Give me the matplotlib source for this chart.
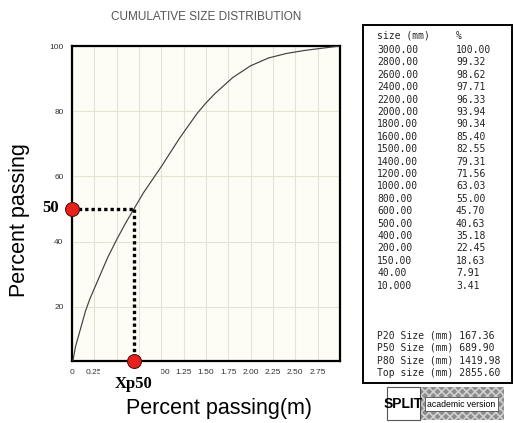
import matplotlib.pyplot as plt
from matplotlib.patches import Rectangle

# size distribution (size in mm, cumulative % passing)
sizes_mm = [3000.00, 2800.00, 2600.00, 2400.00, 2200.00, 2000.00, 1800.00,
            1600.00, 1500.00, 1400.00, 1200.00, 1000.00, 800.00, 600.00,
            500.00, 400.00, 200.00, 150.00, 40.00, 10.000]
passing = [100.00, 99.32, 98.62, 97.71, 96.33, 93.94, 90.34, 85.40, 82.55,
           79.31, 71.56, 63.03, 55.00, 45.70, 40.63, 35.18, 22.45, 18.63,
           7.91, 3.41]
size_labels = ['3000.00', '2800.00', '2600.00', '2400.00', '2200.00',
               '2000.00', '1800.00', '1600.00', '1500.00', '1400.00',
               '1200.00', '1000.00', '800.00', '600.00', '500.00', '400.00',
               '200.00', '150.00', '40.00', '10.000']
pass_labels = ['100.00', '99.32', '98.62', '97.71', '96.33', '93.94', '90.34',
               '85.40', '82.55', '79.31', '71.56', '63.03', '55.00', '45.70',
               '40.63', '35.18', '22.45', '18.63', '7.91', '3.41']
summary = ['P20 Size (mm) 167.36', 'P50 Size (mm) 689.90',
           'P80 Size (mm) 1419.98', 'Top size (mm) 2855.60']
p50_m = 0.6899
x_ticks = [0, 0.25, 0.5, 0.75, 1.0, 1.25, 1.5, 1.75, 2.0, 2.25, 2.5, 2.75, 3.0]
# 0.50 / 0.75 are hidden under the Xp50 callout in the original
x_ticklabels = ['0', '0.25', '', '', '1.00', '1.25', '1.50', '1.75',
                '2.00', '2.25', '2.50', '2.75', '']
y_ticks = [20, 40, 60, 80, 100]

W, H = 514, 423
fig = plt.figure(figsize=(W / 100, H / 100), dpi=100)
fig.patch.set_facecolor('white')
plt.rcParams['hatch.linewidth'] = 1.2

def fx(px):
    return px / W

def fy(py):
    return 1 - py / H

ax = fig.add_axes([fx(72), fy(361), fx(340) - fx(72), fy(46) - fy(361)])
ax.set_facecolor('#fdfdf6')

size_m = [s / 1000 for s in sizes_mm]
ax.plot(size_m, passing, color='#404040', lw=0.85, zorder=3)

ax.set_xlim(0, 3.0)
ax.set_ylim(3.41, 100)
ax.set_xticks(x_ticks)
ax.set_xticklabels(x_ticklabels)
ax.set_yticks(y_ticks)
ax.grid(True, color='#e4e4d4', lw=0.8)
ax.tick_params(length=0, labelsize=6, labelcolor='#333333', pad=6)
for lab in ax.get_xticklabels() + ax.get_yticklabels():
    lab.set_family(['Liberation Sans Narrow', 'Liberation Sans'])
for sp in ax.spines.values():
    sp.set_linewidth(1.6)
    sp.set_color('black')

# P50 guide lines and markers
ax.plot([0, p50_m], [50, 50], color='black', lw=2.4, ls=(0, (1, 0.9)), zorder=4)
ax.plot([p50_m, p50_m], [50, 3.41], color='black', lw=2.4, ls=(0, (1, 0.9)), zorder=4)
ax.plot([0], [50], 'o', ms=10, mfc='#e8201c', mec='#551111', mew=0.8,
        clip_on=False, zorder=6)
ax.plot([p50_m], [3.41], 'o', ms=10, mfc='#e8201c', mec='#551111', mew=0.8,
        clip_on=False, zorder=6)

# white patch that clips the "1.00" label, as in the original
fig.patches.append(Rectangle((fx(100), fy(378)), fx(161) - fx(100), fy(368.5) - fy(378),
                             transform=fig.transFigure, facecolor='white',
                             edgecolor='none', zorder=5))

fig.text(fx(59), fy(208), '50', ha='right', va='center', fontsize=12,
         fontweight='bold', family='Liberation Serif', zorder=7)
fig.text(fx(134), fy(384), 'Xp50', ha='center', va='center', fontsize=12,
         fontweight='bold', family='Liberation Serif', zorder=7)

fig.text(fx(206), fy(17), 'CUMULATIVE SIZE DISTRIBUTION', ha='center', va='center',
         fontsize=8.5, color='#555555', family=['Liberation Sans Narrow', 'Liberation Sans'])
fig.text(fx(219), fy(408), 'Percent passing(m)', ha='center', va='center',
         fontsize=15.5, family='Liberation Sans')
fig.text(fx(20), fy(220), 'Percent passing', ha='center', va='center', rotation=90,
         fontsize=15.5, family='Liberation Sans')

# results table on the right
fig.patches.append(Rectangle((fx(363), fy(383)), fx(512) - fx(363), fy(25) - fy(383),
                             transform=fig.transFigure, facecolor='white',
                             edgecolor='black', lw=1.4, zorder=1))
mono = dict(fontsize=7, family='DejaVu Sans Mono', color='#222222', va='center')
fig.text(fx(377), fy(36), 'size (mm)', **mono)
fig.text(fx(456), fy(36), '%', **mono)
row_y = 50
for sl, pl in zip(size_labels, pass_labels):
    fig.text(fx(377), fy(row_y), sl, **mono)
    fig.text(fx(456), fy(row_y), pl, **mono)
    row_y += 12.4
row_y = 335
for line in summary:
    fig.text(fx(377), fy(row_y), line, **mono)
    row_y += 12.7

# SPLIT academic version badge
fig.patches.append(Rectangle((fx(387), fy(420)), fx(504) - fx(387), fy(387) - fy(420),
                             transform=fig.transFigure, facecolor='#8c8c8c',
                             edgecolor='#d0d0d0', hatch='xxxx', lw=0, zorder=1))
fig.patches.append(Rectangle((fx(387), fy(420)), fx(420) - fx(387), fy(387) - fy(420),
                             transform=fig.transFigure, facecolor='white',
                             edgecolor='#555555', lw=0.8, zorder=2))
fig.text(fx(403.5), fy(404), 'SPLIT', ha='center', va='center', fontsize=10,
         fontweight='bold', family=['Liberation Sans Narrow', 'Liberation Sans'], zorder=3)
fig.text(fx(461.5), fy(404), 'academic version', ha='center', va='center', fontsize=6.3,
         family='Liberation Sans', zorder=3,
         bbox=dict(facecolor='white', edgecolor='#333333', lw=0.5, pad=1.5))

fig.savefig('out.png', dpi=100)
